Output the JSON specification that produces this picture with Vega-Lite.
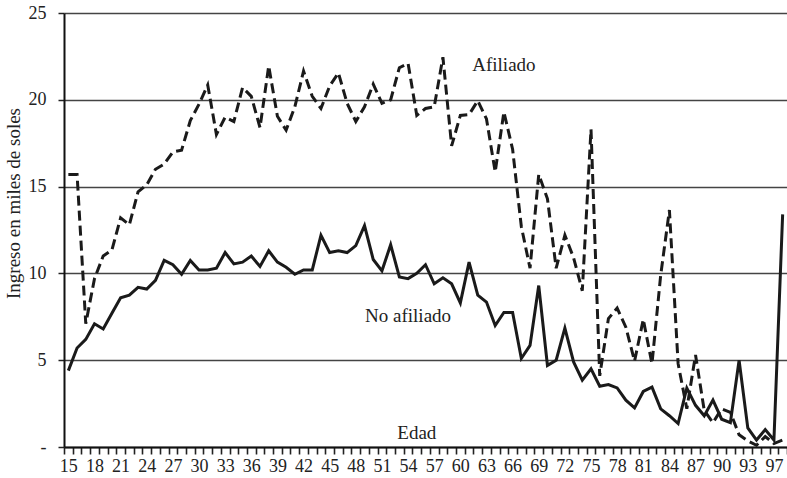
{
  "$schema": "https://vega.github.io/schema/vega-lite/v6.json",
  "width": 723,
  "height": 434,
  "autosize": {"type": "none"},
  "padding": {"left": 64, "top": 13, "right": 0, "bottom": 31},
  "background": "white",
  "config": {
    "view": {"stroke": null},
    "font": "Liberation Serif"
  },
  "datasets": {
    "ingresos": [
      {"edad": 15, "afiliado": 15.7, "no_afiliado": 4.4},
      {"edad": 16, "afiliado": 15.7, "no_afiliado": 5.7},
      {"edad": 17, "afiliado": 7.1, "no_afiliado": 6.2},
      {"edad": 18, "afiliado": 9.7, "no_afiliado": 7.1},
      {"edad": 19, "afiliado": 11.0, "no_afiliado": 6.8},
      {"edad": 20, "afiliado": 11.35, "no_afiliado": 7.7},
      {"edad": 21, "afiliado": 13.2, "no_afiliado": 8.6},
      {"edad": 22, "afiliado": 12.8, "no_afiliado": 8.75},
      {"edad": 23, "afiliado": 14.7, "no_afiliado": 9.2},
      {"edad": 24, "afiliado": 15.1, "no_afiliado": 9.1},
      {"edad": 25, "afiliado": 16.0, "no_afiliado": 9.6},
      {"edad": 26, "afiliado": 16.3, "no_afiliado": 10.75},
      {"edad": 27, "afiliado": 17.0, "no_afiliado": 10.5},
      {"edad": 28, "afiliado": 17.1, "no_afiliado": 9.95},
      {"edad": 29, "afiliado": 18.8, "no_afiliado": 10.75},
      {"edad": 30, "afiliado": 19.75, "no_afiliado": 10.2},
      {"edad": 31, "afiliado": 20.85, "no_afiliado": 10.2},
      {"edad": 32, "afiliado": 18.0, "no_afiliado": 10.3},
      {"edad": 33, "afiliado": 19.0, "no_afiliado": 11.2},
      {"edad": 34, "afiliado": 18.75, "no_afiliado": 10.55},
      {"edad": 35, "afiliado": 20.7, "no_afiliado": 10.65},
      {"edad": 36, "afiliado": 20.2, "no_afiliado": 11.0},
      {"edad": 37, "afiliado": 18.4, "no_afiliado": 10.4},
      {"edad": 38, "afiliado": 21.95, "no_afiliado": 11.3},
      {"edad": 39, "afiliado": 19.05, "no_afiliado": 10.65},
      {"edad": 40, "afiliado": 18.25, "no_afiliado": 10.35},
      {"edad": 41, "afiliado": 19.6, "no_afiliado": 9.95},
      {"edad": 42, "afiliado": 21.65, "no_afiliado": 10.2},
      {"edad": 43, "afiliado": 20.2, "no_afiliado": 10.2},
      {"edad": 44, "afiliado": 19.5, "no_afiliado": 12.2},
      {"edad": 45, "afiliado": 20.8, "no_afiliado": 11.2},
      {"edad": 46, "afiliado": 21.55, "no_afiliado": 11.3},
      {"edad": 47, "afiliado": 19.8, "no_afiliado": 11.2},
      {"edad": 48, "afiliado": 18.75, "no_afiliado": 11.6},
      {"edad": 49, "afiliado": 19.6, "no_afiliado": 12.75},
      {"edad": 50, "afiliado": 20.9, "no_afiliado": 10.8},
      {"edad": 51, "afiliado": 19.8, "no_afiliado": 10.15},
      {"edad": 52, "afiliado": 20.0, "no_afiliado": 11.65},
      {"edad": 53, "afiliado": 21.85, "no_afiliado": 9.8},
      {"edad": 54, "afiliado": 22.1, "no_afiliado": 9.7},
      {"edad": 55, "afiliado": 19.1, "no_afiliado": 10.0},
      {"edad": 56, "afiliado": 19.5, "no_afiliado": 10.5},
      {"edad": 57, "afiliado": 19.6, "no_afiliado": 9.4},
      {"edad": 58, "afiliado": 22.45, "no_afiliado": 9.75},
      {"edad": 59, "afiliado": 17.35, "no_afiliado": 9.4},
      {"edad": 60, "afiliado": 19.1, "no_afiliado": 8.3},
      {"edad": 61, "afiliado": 19.15, "no_afiliado": 10.65},
      {"edad": 62, "afiliado": 19.95, "no_afiliado": 8.75},
      {"edad": 63, "afiliado": 18.9, "no_afiliado": 8.35},
      {"edad": 64, "afiliado": 15.85, "no_afiliado": 7.0},
      {"edad": 65, "afiliado": 19.3, "no_afiliado": 7.75},
      {"edad": 66, "afiliado": 17.15, "no_afiliado": 7.75},
      {"edad": 67, "afiliado": 12.7, "no_afiliado": 5.1},
      {"edad": 68, "afiliado": 10.3, "no_afiliado": 5.85},
      {"edad": 69, "afiliado": 15.7, "no_afiliado": 9.3},
      {"edad": 70, "afiliado": 14.3, "no_afiliado": 4.7},
      {"edad": 71, "afiliado": 10.3, "no_afiliado": 5.0},
      {"edad": 72, "afiliado": 12.2, "no_afiliado": 6.85},
      {"edad": 73, "afiliado": 10.9, "no_afiliado": 4.9},
      {"edad": 74, "afiliado": 9.0, "no_afiliado": 3.85},
      {"edad": 75, "afiliado": 18.3, "no_afiliado": 4.5},
      {"edad": 76, "afiliado": 4.1, "no_afiliado": 3.5},
      {"edad": 77, "afiliado": 7.4, "no_afiliado": 3.6},
      {"edad": 78, "afiliado": 8.0, "no_afiliado": 3.4},
      {"edad": 79, "afiliado": 6.9, "no_afiliado": 2.7},
      {"edad": 80, "afiliado": 4.95, "no_afiliado": 2.25},
      {"edad": 81, "afiliado": 7.35, "no_afiliado": 3.2},
      {"edad": 82, "afiliado": 4.8, "no_afiliado": 3.45},
      {"edad": 83, "afiliado": 9.9, "no_afiliado": 2.2},
      {"edad": 84, "afiliado": 13.65, "no_afiliado": 1.8},
      {"edad": 85, "afiliado": 4.8, "no_afiliado": 1.35},
      {"edad": 86, "afiliado": 2.2, "no_afiliado": 3.4},
      {"edad": 87, "afiliado": 5.3, "no_afiliado": 2.4},
      {"edad": 88, "afiliado": 2.1, "no_afiliado": 1.8},
      {"edad": 89, "afiliado": 1.4, "no_afiliado": 2.7},
      {"edad": 90, "afiliado": 2.2, "no_afiliado": 1.6},
      {"edad": 91, "afiliado": 2.0, "no_afiliado": 1.4},
      {"edad": 92, "afiliado": 0.7, "no_afiliado": 5.0},
      {"edad": 93, "afiliado": 0.35, "no_afiliado": 1.1},
      {"edad": 94, "afiliado": 0.1, "no_afiliado": 0.4},
      {"edad": 95, "afiliado": 0.6, "no_afiliado": 1.0},
      {"edad": 97, "afiliado": 0.2, "no_afiliado": 0.4},
      {"edad": 98, "afiliado": 0.4, "no_afiliado": 13.4}
    ],
    "etiquetas": [
      {"edad": 65, "valor": 21.98, "texto": "Afiliado"},
      {"edad": 54, "valor": 7.52, "texto": "No afiliado"},
      {"edad": 55, "valor": 0.78, "texto": "Edad"}
    ]
  },
  "encoding": {
    "x": {
      "field": "edad",
      "type": "ordinal",
      "bandPosition": 0.5,
      "scale": {"type": "band", "paddingInner": 0, "paddingOuter": 0},
      "axis": {
        "title": null,
        "labelAngle": 0,
        "labelOverlap": false,
        "labelExpr": "indexof([15,18,21,24,27,30,33,36,39,42,45,48,51,54,57,60,63,66,69,72,75,78,81,84,87,90,93,97], datum.value) >= 0 ? datum.label : ''",
        "labelFont": "Liberation Serif",
        "labelFontSize": 18,
        "labelColor": "#222222",
        "labelPadding": 3,
        "ticks": true,
        "tickBand": "extent",
        "tickSize": 7,
        "tickWidth": 1.6,
        "tickColor": "#222222",
        "domainColor": "#111111",
        "domainWidth": 2,
        "grid": false
      }
    }
  },
  "layer": [
    {
      "data": {"name": "ingresos"},
      "mark": {"type": "line", "color": "#1a1a1a", "strokeWidth": 3, "strokeDash": [10, 5], "strokeCap": "butt"},
      "encoding": {
        "y": {
          "field": "afiliado",
          "type": "quantitative",
          "scale": {"domain": [0, 25], "nice": false, "zero": true},
          "axis": {
            "title": "Ingreso en miles de soles",
            "titleFont": "Liberation Serif",
            "titleFontSize": 19,
            "titleFontWeight": "normal",
            "titleColor": "#222222",
            "titlePadding": 5,
            "titleY": 190,
            "values": [0, 5, 10, 15, 20, 25],
            "labelExpr": "datum.value == 0 ? '-' : datum.label",
            "labelFont": "Liberation Serif",
            "labelFontSize": 18,
            "labelColor": "#222222",
            "labelPadding": 12,
            "tickSize": 6,
            "tickWidth": 1.5,
            "tickColor": "#222222",
            "domainColor": "#111111",
            "domainWidth": 2,
            "grid": true,
            "gridColor": "#444444",
            "gridWidth": 1.6
          }
        }
      }
    },
    {
      "data": {"name": "ingresos"},
      "mark": {"type": "line", "color": "#1a1a1a", "strokeWidth": 3},
      "encoding": {
        "y": {"field": "no_afiliado", "type": "quantitative"}
      }
    },
    {
      "data": {"name": "etiquetas"},
      "mark": {"type": "text", "font": "Liberation Serif", "fontSize": 19, "color": "#222222", "align": "center", "baseline": "middle"},
      "encoding": {
        "y": {"field": "valor", "type": "quantitative"},
        "text": {"field": "texto"}
      }
    }
  ]
}
